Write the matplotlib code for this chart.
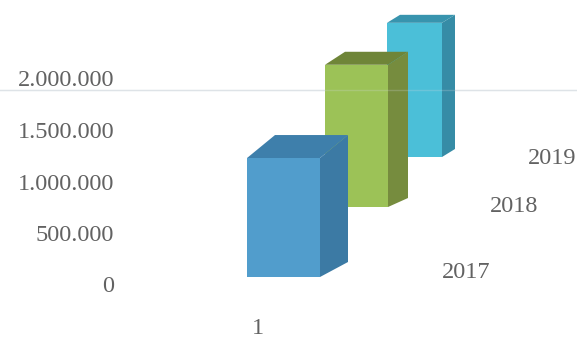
import matplotlib
matplotlib.use('Agg')
import matplotlib.pyplot as plt
from matplotlib.patches import Polygon

# data
series = ['2017', '2018', '2019']
values = [1155000, 1600000, 1730000]
category = '1'
yticks = [0, 500000, 1000000, 1500000, 2000000]
ytick_labels = ['0', '500.000', '1.000.000', '1.500.000', '2.000.000']

W, H = 577, 338
PX_PER_UNIT = 103.0 / 1e6   # front row vertical scale
ZERO_PX = 287               # pixel row of the "0" label

# fake 3d geometry per depth row: front-left base x, base y, width,
# depth shift (dx, top dy, bottom dy), perspective shrink
rows = [
    dict(x=247, y=277, w=73, dx=28, dyt=-23, dyb=-15, k=1.0),
    dict(x=325, y=207, w=63, dx=20, dyt=-13, dyb=-9, k=0.863),
    dict(x=387, y=157, w=55, dx=13, dyt=-8, dyb=-8, k=0.753),
]
colors = [
    ('#519dcc', '#3e7fab', '#3c7aa4'),   # front, top, side
    ('#9cc257', '#6f8538', '#768c3e'),
    ('#4bbfd8', '#3894ae', '#368ca6'),
]
label_pos = [(466, 272), (514, 206), (552, 158)]

fig = plt.figure(figsize=(W / 100, H / 100), dpi=100)
ax = fig.add_axes([0, 0, 1, 1])
ax.set_xlim(0, W)
ax.set_ylim(H, 0)
ax.axis('off')

font = dict(family='Liberation Serif', color='#626262', fontsize=17.5)

# 2.000.000 gridline on the back wall
ax.plot([0, W], [90, 90], color='#e4e8ec', lw=1, zorder=1)

for v, lab in zip(yticks, ytick_labels):
    ax.text(114, ZERO_PX - v * PX_PER_UNIT, lab, ha='right', va='center', **font)

# draw back to front
for i in reversed(range(len(values))):
    r = rows[i]
    h = values[i] * PX_PER_UNIT * r['k']
    x0, y0, w = r['x'], r['y'], r['w']
    top = y0 - h
    front_c, top_c, side_c = colors[i]
    side = [(x0 + w, y0), (x0 + w, top), (x0 + w + r['dx'], top + r['dyt']),
            (x0 + w + r['dx'], y0 + r['dyb'])]
    lid = [(x0, top), (x0 + w, top), (x0 + w + r['dx'], top + r['dyt']),
           (x0 + r['dx'], top + r['dyt'])]
    ax.add_patch(Polygon(side, closed=True, fc=side_c, ec='none', zorder=2 + 3 * (3 - i)))
    ax.add_patch(Polygon(lid, closed=True, fc=top_c, ec='none', zorder=2 + 3 * (3 - i)))
    ax.add_patch(Polygon([(x0, y0), (x0, top), (x0 + w, top), (x0 + w, y0)],
                         closed=True, fc=front_c, ec='none', zorder=3 + 3 * (3 - i)))
    ax.text(label_pos[i][0], label_pos[i][1], series[i], ha='center', va='center', **font)

ax.plot([0, W], [90, 90], color='#d0d6dc', lw=1, alpha=0.25, zorder=20)
ax.text(258, 329, category, ha='center', va='center', **font)

fig.savefig('out.png', dpi=100)
